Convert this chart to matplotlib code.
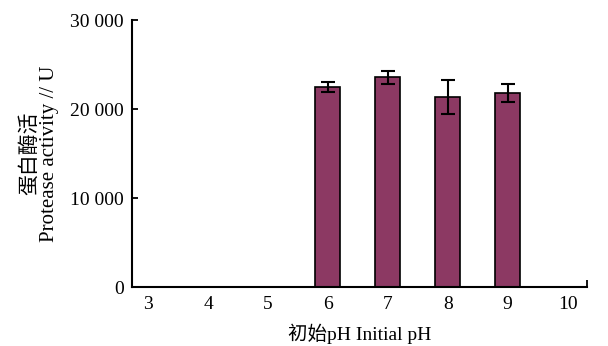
import matplotlib.pyplot as plt
from matplotlib.ticker import FuncFormatter

ph = [3, 4, 5, 6, 7, 8, 9, 10]
activity = [0, 0, 0, 22500, 23550, 21400, 21850, 0]
err = [0, 0, 0, 550, 700, 1900, 1000, 0]

plt.rcParams['font.family'] = ['Liberation Serif', 'Noto Sans CJK SC']
plt.rcParams['font.size'] = 14

fig = plt.figure(figsize=(6.08, 3.46), dpi=100)
ax = fig.add_axes([0.217, 0.170, 0.748, 0.772])

bar_ph = [p for p, v in zip(ph, activity) if v > 0]
bar_val = [v for v in activity if v > 0]
bar_err = [e for e, v in zip(err, activity) if v > 0]
ax.bar(bar_ph, bar_val, width=0.42, color="#8c3963", edgecolor="black", linewidth=1.2,
       yerr=bar_err, error_kw=dict(ecolor="black", elinewidth=1.5, capsize=5, capthick=1.5))

ax.set_xlim(2.73, 10.32)
ax.set_ylim(0, 30000)
ax.set_xticks(ph)
ax.set_yticks([0, 10000, 20000, 30000])
ax.yaxis.set_major_formatter(FuncFormatter(lambda v, p: f"{int(v):,}".replace(",", " ")))
ax.tick_params(axis="x", length=0, pad=6)
ax.tick_params(axis="y", direction="in", length=4, width=1.3, pad=6)
ax.set_xticks([10.32], minor=True)
ax.tick_params(axis="x", which="minor", direction="in", length=5, width=1.3)

for s in ["top", "right"]:
    ax.spines[s].set_visible(False)
for s in ["left", "bottom"]:
    ax.spines[s].set_linewidth(1.5)

ax.set_xlabel("初始pH Initial pH", labelpad=8)
ax.set_ylabel("蛋白酶活\nProtease activity // U", labelpad=8, linespacing=1.0, fontsize=15)

fig.savefig("out.png", dpi=100)
